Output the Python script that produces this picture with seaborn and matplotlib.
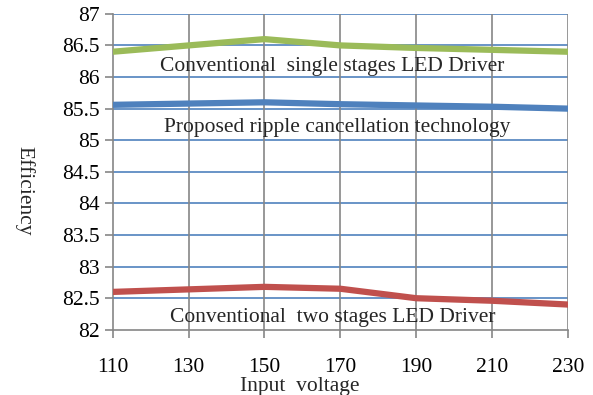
import matplotlib
matplotlib.use("Agg")
import matplotlib.pyplot as plt
import seaborn as sns
import pandas as pd

voltage = [110, 130, 150, 170, 190, 210, 230]
single_stage = [86.40, 86.50, 86.60, 86.50, 86.46, 86.43, 86.40]
proposed = [85.56, 85.58, 85.60, 85.57, 85.55, 85.53, 85.50]
two_stage = [82.60, 82.64, 82.68, 82.65, 82.50, 82.46, 82.40]
series_names = ["Conventional  single stages LED Driver",
                "Proposed ripple cancellation technology",
                "Conventional  two stages LED Driver"]
x_ticks = [110, 130, 150, 170, 190, 210, 230]
y_ticks = [82, 82.5, 83, 83.5, 84, 84.5, 85, 85.5, 86, 86.5, 87]
y_tick_labels = ["82", "82.5", "83", "83.5", "84", "84.5", "85", "85.5", "86", "86.5", "87"]

sns.set_style("white")
plt.rcParams['font.family'] = ['Liberation Serif', 'DejaVu Serif']

df = pd.DataFrame({
    "Input voltage": voltage * 3,
    "Efficiency": single_stage + proposed + two_stage,
    "series": [series_names[0]] * 7 + [series_names[1]] * 7 + [series_names[2]] * 7,
})
palette = {series_names[0]: "#9BBB59", series_names[1]: "#4F81BD", series_names[2]: "#C0504D"}

FS = 15.5
fig = plt.figure(figsize=(5.93, 3.95), dpi=100)
ax = fig.add_axes([0.19, 0.165, 0.768, 0.8])

for y in y_ticks[1:]:
    ax.axhline(y, color="#4F81BD", lw=1.2, zorder=1)
for x in x_ticks[1:]:
    ax.axvline(x, color="#868686", lw=1.2, zorder=1)

sns.lineplot(data=df, x="Input voltage", y="Efficiency", hue="series",
             palette=palette, lw=4.5, legend=False, ax=ax, zorder=3)

ax.set_xlim(110, 230)
ax.set_ylim(82, 87)
ax.set_xticks(x_ticks)
ax.set_yticks(y_ticks)
ax.set_yticklabels(y_tick_labels)
ax.tick_params(axis='both', labelsize=FS, colors="#868686", labelcolor="black",
               length=6, width=1.2, direction='out', bottom=True, left=True)
ax.tick_params(axis='x', pad=14)
for s in ["top", "right"]:
    ax.spines[s].set_visible(False)
for s in ["left", "bottom"]:
    ax.spines[s].set_color("#868686")
    ax.spines[s].set_linewidth(1.2)

ax.text(122.5, 86.16, series_names[0], fontsize=FS, va="center", ha="left", zorder=4)
ax.text(123.5, 85.20, series_names[1], fontsize=FS, va="center", ha="left", zorder=4)
ax.text(125, 82.20, series_names[2], fontsize=FS, va="center", ha="left", zorder=4)

ax.set_xlabel("Input  voltage", fontsize=FS)
ax.set_ylabel("Efficiency", fontsize=FS, rotation=270)
ax.yaxis.set_label_coords(-0.215, 0.44)
ax.xaxis.set_label_coords(0.41, -0.15)

fig.savefig("out.png", dpi=100)
